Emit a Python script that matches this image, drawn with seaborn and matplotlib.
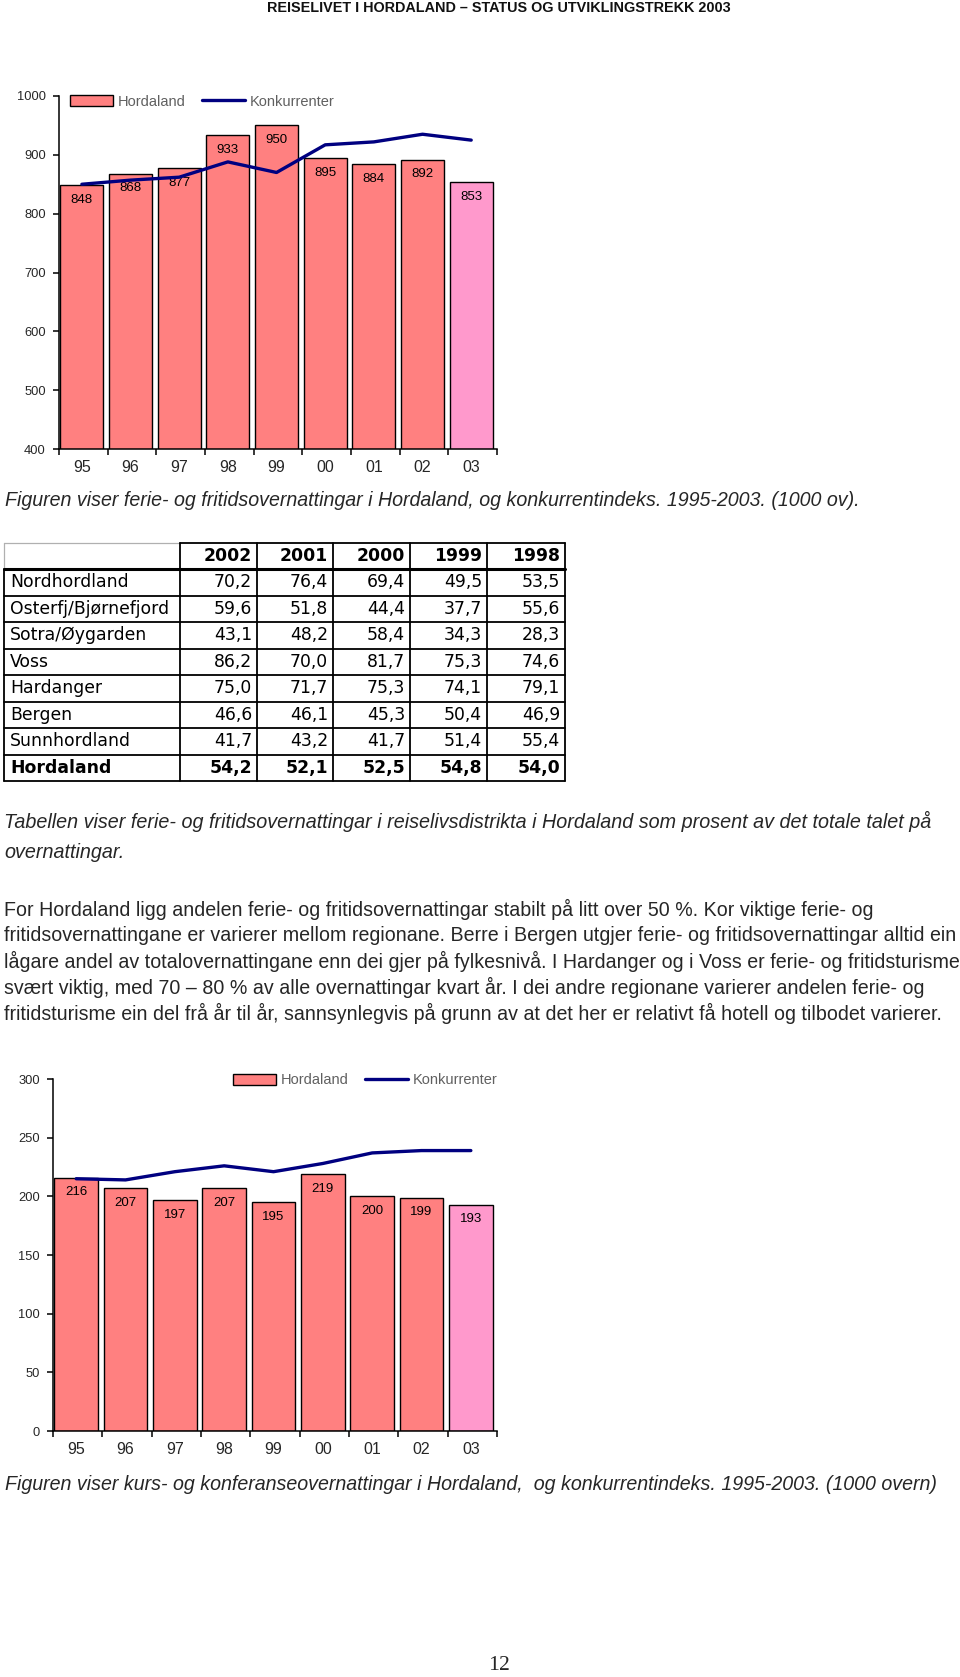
import numpy as np
import pandas as pd
import matplotlib
matplotlib.use("Agg")
import matplotlib.pyplot as plt
import seaborn as sns
from matplotlib.patches import Patch
from matplotlib.lines import Line2D

# ---------------- data ----------------
years = ['95', '96', '97', '98', '99', '00', '01', '02', '03']
ferie_hordaland = [848, 868, 877, 933, 950, 895, 884, 892, 853]
ferie_konkurrenter = [850, 857, 862, 888, 870, 917, 922, 935, 925]
kurs_hordaland = [216, 207, 197, 207, 195, 219, 200, 199, 193]
kurs_konkurrenter = [215, 214, 221, 226, 221, 228, 237, 239, 239]
bar_colors = ['#FF8080'] * 8 + ['#FF99CC']

ferie_yticks = [400, 500, 600, 700, 800, 900, 1000]
kurs_yticks = [0, 50, 100, 150, 200, 250, 300]

table_columns = ['2002', '2001', '2000', '1999', '1998']
table_regions = ['Nordhordland', 'Osterfj/Bjørnefjord', 'Sotra/Øygarden', 'Voss',
                 'Hardanger', 'Bergen', 'Sunnhordland', 'Hordaland']
table_values = [
    [70.2, 76.4, 69.4, 49.5, 53.5],
    [59.6, 51.8, 44.4, 37.7, 55.6],
    [43.1, 48.2, 58.4, 34.3, 28.3],
    [86.2, 70.0, 81.7, 75.3, 74.6],
    [75.0, 71.7, 75.3, 74.1, 79.1],
    [46.6, 46.1, 45.3, 50.4, 46.9],
    [41.7, 43.2, 41.7, 51.4, 55.4],
    [54.2, 52.1, 52.5, 54.8, 54.0],
]

header_text = "REISELIVET I HORDALAND – STATUS OG UTVIKLINGSTREKK 2003"
caption1 = "Figuren viser ferie- og fritidsovernattingar i Hordaland, og konkurrentindeks. 1995-2003. (1000 ov)."
table_caption = ["Tabellen viser ferie- og fritidsovernattingar i reiselivsdistrikta i Hordaland som prosent av det totale talet på",
                 "overnattingar."]
paragraph = [
    "For Hordaland ligg andelen ferie- og fritidsovernattingar stabilt på litt over 50 %. Kor viktige ferie- og",
    "fritidsovernattingane er varierer mellom regionane. Berre i Bergen utgjer ferie- og fritidsovernattingar alltid ein",
    "lågare andel av totalovernattingane enn dei gjer på fylkesnivå. I Hardanger og i Voss er ferie- og fritidsturisme",
    "svært viktig, med 70 – 80 % av alle overnattingar kvart år. I dei andre regionane varierer andelen ferie- og",
    "fritidsturisme ein del frå år til år, sannsynlegvis på grunn av at det her er relativt få hotell og tilbodet varierer.",
]
caption2 = "Figuren viser kurs- og konferanseovernattingar i Hordaland,  og konkurrentindeks. 1995-2003. (1000 overn)"
page_number = "12"

# ---------------- setup ----------------
sns.set_theme(style="ticks")
plt.rcParams['font.family'] = ['Liberation Sans', 'DejaVu Sans']

W, H = 960, 1677
fig = plt.figure(figsize=(W / 100, H / 100), dpi=100)
fig.patch.set_facecolor('white')


def px_rect(left, top, right, bottom):
    return [left / W, 1 - bottom / H, (right - left) / W, (bottom - top) / H]


NAVY = '#000080'


def draw_chart(ax, hord, konk, yticks, legend_left, legend_cy):
    df = pd.DataFrame({'year': years, 'value': hord})
    sns.barplot(data=df, x='year', y='value', hue='year', palette=bar_colors,
                legend=False, width=0.88, edgecolor='black', linewidth=1.0,
                saturation=1, ax=ax, zorder=2)
    for cont, v in zip(ax.containers, hord):
        ax.bar_label(cont, labels=[str(v)], padding=-15, fontsize=9.5, color='black')
    sns.lineplot(x=np.arange(len(years)), y=konk, color=NAVY, lw=2.4, ax=ax,
                 zorder=4)
    ax.set_xlim(-0.47, len(years) - 0.47)
    ax.set_ylim(yticks[0], yticks[-1])
    ax.set_yticks(yticks)
    ax.set_xticks(range(len(years)))
    ax.set_xticklabels(years)
    ax.set_xticks(np.arange(len(years) + 1) - 0.47, minor=True)
    ax.tick_params(axis='x', which='major', length=0, pad=8, labelsize=11.5)
    ax.tick_params(axis='x', which='minor', bottom=True, length=4.5, width=1.1,
                   direction='out', color='black')
    ax.tick_params(axis='y', which='major', left=True, length=4.5, width=1.1,
                   direction='out', pad=5, labelsize=9.3, color='black')
    ax.set_xlabel('')
    ax.set_ylabel('')
    for s in ['top', 'right']:
        ax.spines[s].set_visible(False)
    for s in ['left', 'bottom']:
        ax.spines[s].set_color('black')
        ax.spines[s].set_linewidth(1.1)
    ax.set_facecolor('none')
    handles = [Patch(facecolor='#FF8080', edgecolor='black', lw=1.0),
               Line2D([], [], color=NAVY, lw=2.4)]
    leg = ax.legend(handles, ['Hordaland', 'Konkurrenter'], ncol=2, frameon=False,
                    loc='center left',
                    bbox_to_anchor=(legend_left / W, 1 - legend_cy / H),
                    bbox_transform=fig.transFigure, borderpad=0, borderaxespad=0,
                    handlelength=2.95, handleheight=0.75, handletextpad=0.35,
                    columnspacing=1.1, fontsize=10.5, labelcolor='#606060')


ax1 = fig.add_axes(px_rect(59, 96, 497, 449))
draw_chart(ax1, ferie_hordaland, ferie_konkurrenter, ferie_yticks, 70, 101.5)

ax2 = fig.add_axes(px_rect(53, 1079, 497, 1431))
draw_chart(ax2, kurs_hordaland, kurs_konkurrenter, kurs_yticks, 233, 1080.5)

# ---------------- overlay (page text + table), pixel units ----------------
axo = fig.add_axes([0, 0, 1, 1], zorder=-1)
axo.set_xlim(0, W)
axo.set_ylim(H, 0)
axo.axis('off')

renderer = fig.canvas.get_renderer()


def fit_width(t, target):
    w = t.get_window_extent(renderer).width
    t.set_fontsize(t.get_fontsize() * target / w)
    return t.get_fontsize()


t = axo.text(498.5, 8, header_text, ha='center', va='center', fontsize=10,
             fontweight='bold', color='#111111')
fit_width(t, 463)

t = axo.text(5, 500, caption1, ha='left', va='center', fontsize=12, style='italic')
fit_width(t, 856)

t = axo.text(4, 821.5, table_caption[0], ha='left', va='center', fontsize=12, style='italic')
fs_it = fit_width(t, 924)
axo.text(4, 852, table_caption[1], ha='left', va='center', fontsize=fs_it, style='italic')

para_y = [909, 935, 961, 987, 1013]
t = axo.text(4, para_y[1], paragraph[1], ha='left', va='center', fontsize=12)
fs_p = fit_width(t, 949)
for i, line in enumerate(paragraph):
    if i == 1:
        continue
    axo.text(4, para_y[i], line, ha='left', va='center', fontsize=fs_p)

t = axo.text(5, 1485, caption2, ha='left', va='center', fontsize=12, style='italic')
fit_width(t, 934)

t = axo.text(498.5, 1666, page_number, ha='center', va='center', fontsize=14,
             family=['Liberation Serif', 'DejaVu Serif'])
fit_width(t, 22)

# ---------------- table ----------------
col_edges = [4, 180, 257, 333, 410, 487, 565]
row_top = 543
header_bottom = 569
row_h = 26.5
n_rows = len(table_regions)
row_edges = [header_bottom + row_h * i for i in range(n_rows + 1)]
table_bottom = row_edges[-1]
tfont = dict(family=['DejaVu Sans'], fontsize=12.4, color='black')

# borders
axo.plot([col_edges[0], col_edges[1]], [row_top, row_top], color='#b0b0b0', lw=0.9)
axo.plot([col_edges[0], col_edges[0]], [row_top, header_bottom], color='#b0b0b0', lw=0.9)
axo.plot([col_edges[1], col_edges[-1]], [row_top, row_top], color='black', lw=1.3)
axo.plot([col_edges[0], col_edges[0]], [header_bottom, table_bottom], color='black', lw=1.3)
for x in col_edges[1:]:
    axo.plot([x, x], [row_top, table_bottom], color='black', lw=1.3)
axo.plot([col_edges[0], col_edges[-1]], [header_bottom, header_bottom], color='black', lw=2.2)
for y in row_edges[1:]:
    axo.plot([col_edges[0], col_edges[-1]], [y, y], color='black', lw=1.3)

# header
hy = (row_top + header_bottom) / 2
for j, c in enumerate(table_columns):
    axo.text(col_edges[j + 2] - 5, hy, c, ha='right', va='center', fontweight='bold', **tfont)
for i, reg in enumerate(table_regions):
    y = header_bottom + row_h * (i + 0.5)
    w = 'bold' if i == n_rows - 1 else 'normal'
    axo.text(col_edges[0] + 6, y, reg, ha='left', va='center', fontweight=w, **tfont)
    for j, v in enumerate(table_values[i]):
        s = f"{v:.1f}".replace('.', ',')
        axo.text(col_edges[j + 2] - 5, y, s, ha='right', va='center', fontweight=w, **tfont)

fig.savefig('out.png', dpi=100, facecolor='white')
